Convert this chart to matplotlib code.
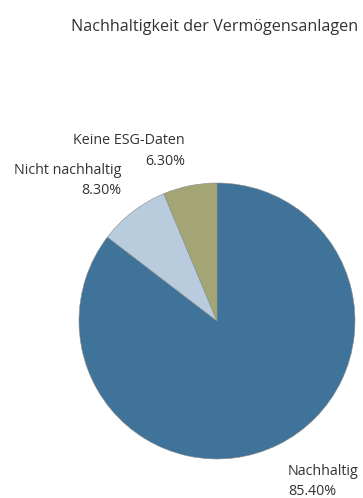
import matplotlib.pyplot as plt

labels = ["Nachhaltig", "Nicht nachhaltig", "Keine ESG-Daten"]
shares = [85.40, 8.30, 6.30]
colors = ["#3f7399", "#b8ccdd", "#a3a674"]

W, H = 363, 498
plt.rcParams["font.family"] = ["Open Sans", "DejaVu Sans"]
text_color = "#333333"

fig = plt.figure(figsize=(W / 100, H / 100), dpi=100)

# pie centred at (217, 321) px, radius 138 px
cx, cy, r = 217, 321, 138
ax = fig.add_axes([(cx - r) / W, (H - cy - r) / H, 2 * r / W, 2 * r / H])
ax.pie(shares, colors=colors, startangle=90, counterclock=False,
       wedgeprops=dict(edgecolor="#8a8a8a", linewidth=0.4))
ax.set_xlim(-1, 1)
ax.set_ylim(-1, 1)
ax.set_aspect("equal")
ax.axis("off")


def px_text(x, y, s, **kw):
    # place text using pixel coordinates measured from the top-left corner
    return fig.text(x / W, 1 - y / H, s, color=text_color, va="baseline", **kw)


px_text(71, 30.7, "Nachhaltigkeit der Vermögensanlagen", fontsize=11.6, ha="left")

# label anchors: x, baseline of name, baseline of value, alignment
anchors = [(288, 475, 494.5, "left"), (121, 173.5, 194, "right"),
           (185, 144, 165, "right")]
for name, val, (x, y1, y2, ha) in zip(labels, shares, anchors):
    px_text(x, y1, name, fontsize=10.3, ha=ha)
    px_text(x, y2, f"{val:.2f}%", fontsize=10.3, ha=ha)

fig.savefig("out.png", dpi=100)
